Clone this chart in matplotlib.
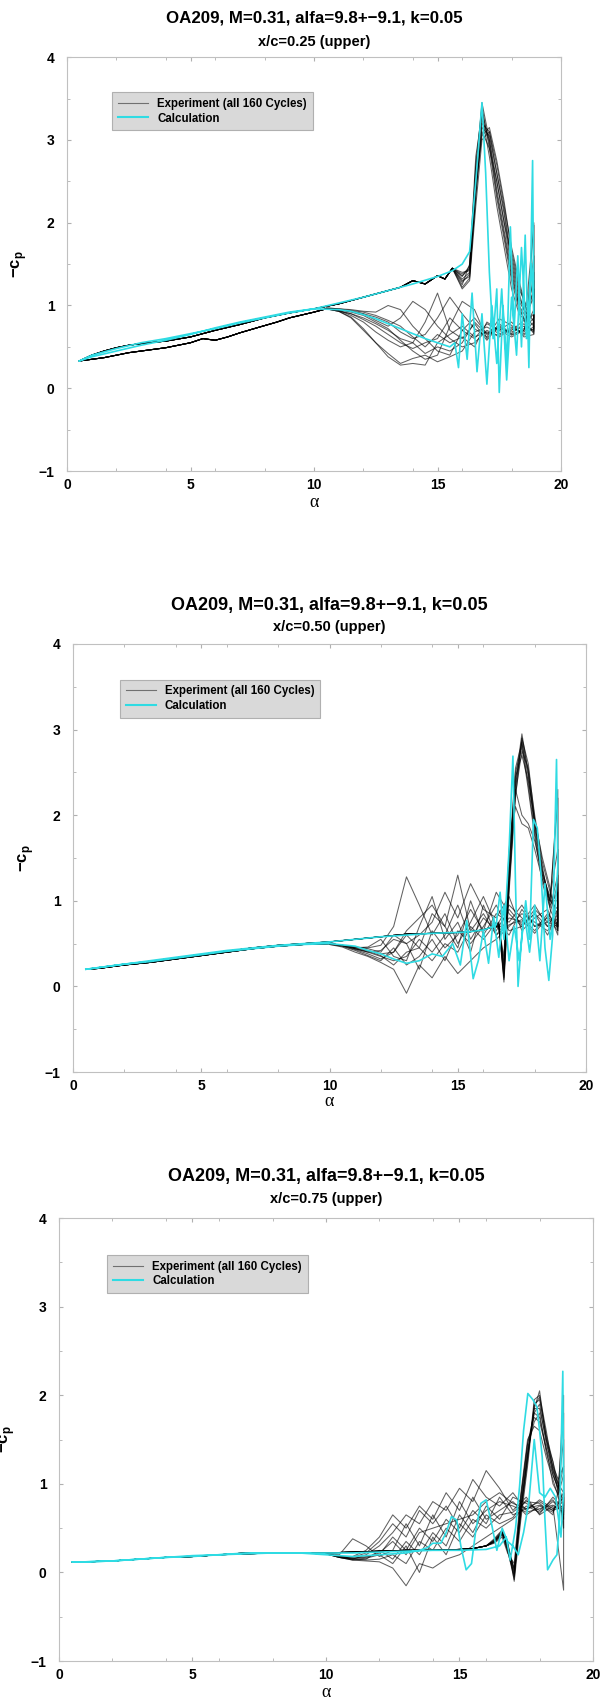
import matplotlib
matplotlib.use('Agg')
import matplotlib.pyplot as plt
from matplotlib.ticker import MultipleLocator
from matplotlib.lines import Line2D

plt.rcParams['font.family'] = ['Liberation Sans', 'DejaVu Sans']
plt.rcParams['font.weight'] = 'bold'
plt.rcParams['mathtext.fontset'] = 'custom'
plt.rcParams['mathtext.rm'] = 'Liberation Sans'
plt.rcParams['mathtext.bf'] = 'Liberation Sans:bold'

TITLE = 'OA209, M=0.31, alfa=9.8+\u22129.1, k=0.05'
SUBTITLES = ['x/c=0.25 (upper)', 'x/c=0.50 (upper)', 'x/c=0.75 (upper)']
LEG_LABELS = ['Experiment (all 160 Cycles)', 'Calculation']

# ---- x/c = 0.25 ----
# upstroke, shared by all cycles
A1_UP = [0.5, 1, 1.5, 2, 2.5, 3, 4, 5, 6, 7, 8, 9, 10, 11, 12, 13, 13.5, 14, 14.5, 15, 15.3, 15.6]
CP1_UP = [0.33, 0.40, 0.45, 0.49, 0.52, 0.54, 0.57, 0.62, 0.70, 0.77, 0.85, 0.91, 0.96, 1.02, 1.10, 1.18,
          1.22, 1.30, 1.26, 1.36, 1.32, 1.45]
# stall part of upstroke, one row per cycle
A1_STALL = [16.0, 16.3, 16.55, 16.8, 17.1, 17.4, 17.7, 18.0, 18.3, 18.6, 18.9]
CP1_STALL = [
    [1.38, 1.45, 2.60, 3.45, 3.00, 2.40, 1.90, 1.40, 1.00, 0.85, 1.60],
    [1.30, 1.35, 2.30, 3.20, 3.10, 2.60, 2.10, 1.50, 1.10, 0.90, 1.20],
    [1.25, 1.50, 2.80, 3.30, 2.80, 2.20, 1.70, 1.20, 0.90, 0.80, 0.90],
    [1.40, 1.42, 2.40, 3.10, 2.90, 2.50, 2.00, 1.60, 1.20, 1.00, 1.97],
    [1.20, 1.30, 2.20, 3.00, 3.10, 2.70, 2.20, 1.70, 1.30, 0.95, 0.80],
    [1.35, 1.48, 2.70, 3.40, 2.90, 2.30, 1.80, 1.30, 0.95, 0.80, 1.40],
    [1.32, 1.40, 2.50, 3.25, 3.00, 2.50, 2.00, 1.45, 1.05, 0.90, 1.10],
    [1.28, 1.38, 2.35, 3.15, 3.05, 2.60, 2.15, 1.55, 1.15, 0.85, 0.75],
    [1.36, 1.44, 2.65, 3.35, 2.95, 2.35, 1.85, 1.35, 1.00, 0.75, 2.00],
    [1.22, 1.33, 2.45, 3.05, 3.15, 2.75, 2.25, 1.65, 1.25, 0.95, 1.30],
]
# downstroke, one row per cycle
A1_DOWN = [18.9, 18.5, 18.0, 17.5, 17.0, 16.5, 16.0, 15.5, 15.0, 14.5, 14.0, 13.5, 13.0, 12.5, 12.0, 11.5, 11.0, 10.5]
CP1_DOWN = [
    [0.70, 0.75, 0.68, 0.72, 0.65, 0.80, 0.55, 0.45, 0.50, 0.42, 0.55, 0.60, 0.70, 0.78, 0.85, 0.90, 0.94, 0.96],
    [0.65, 0.62, 0.80, 0.70, 0.78, 0.60, 0.70, 0.85, 0.60, 0.55, 0.48, 0.55, 0.65, 0.75, 0.83, 0.90, 0.93, 0.96],
    [0.95, 0.70, 0.65, 0.78, 0.60, 0.95, 1.05, 0.75, 0.40, 0.35, 0.45, 0.58, 0.72, 0.80, 0.88, 0.92, 0.95, 0.96],
    [0.80, 0.68, 0.72, 0.62, 0.70, 0.55, 0.50, 0.60, 0.75, 0.95, 1.05, 0.85, 0.75, 0.82, 0.90, 0.93, 0.95, 0.96],
    [0.66, 0.82, 0.70, 0.66, 0.74, 0.68, 0.45, 0.38, 0.32, 0.40, 0.36, 0.30, 0.42, 0.55, 0.70, 0.85, 0.93, 0.96],
    [0.75, 0.64, 0.76, 0.84, 0.62, 0.72, 0.90, 1.10, 0.85, 0.65, 0.60, 0.68, 0.80, 0.86, 0.90, 0.93, 0.95, 0.96],
    [1.20, 0.70, 0.62, 0.70, 0.80, 0.50, 0.62, 0.55, 0.65, 0.50, 0.62, 0.75, 0.82, 0.88, 0.92, 0.94, 0.96, 0.97],
    [0.68, 0.78, 0.66, 0.74, 0.66, 0.85, 0.70, 0.40, 0.45, 0.60, 0.75, 0.95, 1.00, 0.92, 0.93, 0.95, 0.96, 0.97],
    [0.72, 0.66, 0.74, 0.64, 0.68, 0.62, 0.75, 0.65, 0.55, 0.28, 0.30, 0.28, 0.38, 0.55, 0.72, 0.86, 0.93, 0.96],
    [0.85, 0.72, 0.64, 0.76, 0.58, 0.78, 0.60, 0.70, 1.15, 0.80, 0.55, 0.50, 0.58, 0.68, 0.80, 0.88, 0.94, 0.96],
]
# end of downstroke, shared
A1_BACK = [10.5, 10, 9, 8.5, 7.8, 7, 6.5, 6, 5.5, 5, 4, 3.5, 2.5, 1.5, 0.5]
CP1_BACK = [0.96, 0.92, 0.85, 0.80, 0.74, 0.67, 0.62, 0.58, 0.60, 0.55, 0.49, 0.47, 0.43, 0.37, 0.33]
# calculation
CALC1_A = [0.5, 1, 2, 3, 4, 5, 6, 7, 8, 9, 10, 11, 12, 13, 14, 15, 15.6, 16.0, 16.3, 16.55,
           16.8, 16.95, 17.1, 17.25, 17.4, 17.5, 17.65, 17.8, 17.95, 18.1, 18.25, 18.4, 18.55, 18.7, 18.85, 18.9,
           18.8, 18.6, 18.4, 18.2, 18.0, 17.8, 17.6, 17.4, 17.2, 17.0, 16.8, 16.6, 16.4, 16.2,
           16.0, 15.85, 15.7, 15.5, 15.0, 14.5, 14.0, 13.5, 13.0, 12.5, 12.0, 11.5, 11.0, 10.0,
           9, 8, 7, 6, 5, 4, 3, 2, 1, 0.5]
CALC1_CP = [0.33, 0.40, 0.48, 0.55, 0.60, 0.66, 0.72, 0.79, 0.85, 0.91, 0.96, 1.03, 1.10, 1.18, 1.26, 1.35, 1.42,
            1.50, 1.65, 2.50, 3.45, 2.60, 1.40, 0.60, 1.20, -0.05, 1.00, 0.30, 1.95, 0.70, 1.60, 0.50, 1.85, 0.25,
            2.75, 0.90, 1.50, 0.60, 1.70, 0.40, 1.10, 0.10, 1.20, 0.30, 1.00, 0.05, 0.90, 0.20, 1.15, 0.35,
            0.90, 0.25, 0.55, 0.50, 0.55, 0.60, 0.66, 0.72, 0.78, 0.84, 0.89, 0.93, 0.95, 0.96,
            0.92, 0.86, 0.80, 0.73, 0.65, 0.58, 0.52, 0.45, 0.38, 0.33]

# ---- x/c = 0.50 ----
A2_UP = [0.5, 1, 2, 3, 4, 5, 6, 7, 8, 9, 10, 11, 12, 13, 14, 15, 15.5, 16.0, 16.4]
CP2_UP = [0.20, 0.22, 0.26, 0.29, 0.33, 0.37, 0.41, 0.45, 0.48, 0.50, 0.52, 0.55, 0.58, 0.61, 0.62, 0.63, 0.64,
          0.66, 0.70]
A2_STALL = [16.6, 16.8, 17.0, 17.25, 17.5, 17.75, 18.0, 18.3, 18.6, 18.9]
CP2_STALL = [
    [0.72, 0.10, 1.30, 2.40, 2.95, 2.50, 1.90, 1.35, 1.00, 2.20],
    [0.70, 0.25, 1.50, 2.55, 2.85, 2.35, 1.80, 1.25, 0.95, 1.10],
    [0.74, 0.15, 1.20, 2.25, 2.75, 2.55, 2.00, 1.45, 1.10, 0.80],
    [0.68, 0.35, 1.60, 2.30, 2.00, 1.90, 1.70, 1.30, 1.05, 1.60],
    [0.71, 0.05, 1.10, 2.20, 2.90, 2.60, 1.95, 1.40, 0.90, 0.70],
    [0.73, 0.20, 1.40, 2.50, 2.80, 2.30, 1.75, 1.20, 0.92, 1.30],
    [0.69, 0.30, 1.55, 2.10, 1.90, 1.85, 1.60, 1.25, 1.00, 0.90],
    [0.72, 0.12, 1.25, 2.35, 2.85, 2.45, 1.85, 1.30, 0.98, 2.30],
    [0.70, 0.22, 1.35, 2.45, 2.70, 2.40, 1.95, 1.50, 1.15, 0.65],
    [0.75, 0.08, 1.15, 2.30, 2.90, 2.50, 1.90, 1.35, 1.00, 1.00],
]
A2_DOWN = [18.9, 18.5, 18.0, 17.5, 17.0, 16.5, 16.0, 15.5, 15.0, 14.5, 14.0, 13.5, 13.0, 12.5, 12.0, 11.5, 11.0,
           10.5, 10.0]
CP2_DOWN = [
    [0.75, 0.70, 0.85, 0.72, 0.90, 0.65, 0.80, 0.55, 0.95, 0.60, 0.40, 0.55, 0.35, 0.30, 0.35, 0.40, 0.44, 0.48, 0.50],
    [0.65, 0.80, 0.70, 0.95, 0.75, 0.85, 0.60, 1.00, 0.45, 0.70, 0.85, 0.45, 0.60, 0.40, 0.38, 0.42, 0.45, 0.48, 0.50],
    [1.20, 0.75, 0.90, 0.70, 0.65, 0.95, 0.70, 0.50, 0.65, 0.30, 0.55, 0.35, 0.25, 0.45, 0.30, 0.36, 0.42, 0.47, 0.49],
    [0.70, 0.85, 0.65, 0.80, 0.95, 0.70, 1.05, 0.75, 0.50, 0.85, 0.60, 0.95, 1.28, 0.70, 0.48, 0.45, 0.46, 0.48, 0.50],
    [0.80, 0.65, 0.75, 0.85, 0.70, 0.55, 0.45, 0.30, 0.15, 0.35, 0.10, 0.25, -0.08, 0.20, 0.28, 0.35, 0.40, 0.46, 0.49],
    [0.60, 0.90, 0.80, 0.65, 1.05, 0.80, 0.90, 1.20, 0.80, 1.10, 0.75, 0.60, 0.50, 0.55, 0.42, 0.40, 0.44, 0.48, 0.50],
    [0.90, 0.70, 0.95, 0.75, 0.80, 0.60, 0.85, 0.65, 1.30, 0.70, 0.95, 0.80, 0.65, 0.40, 0.32, 0.38, 0.43, 0.47, 0.50],
    [0.70, 0.75, 0.70, 0.90, 0.60, 0.75, 0.55, 0.70, 0.40, 0.50, 0.30, 0.45, 0.40, 0.25, 0.36, 0.41, 0.44, 0.48, 0.50],
    [0.85, 0.60, 0.85, 0.70, 0.85, 1.10, 0.65, 0.90, 0.60, 0.45, 0.65, 0.20, 0.50, 0.60, 0.40, 0.44, 0.46, 0.48, 0.50],
    [0.68, 0.82, 0.62, 0.78, 0.72, 0.60, 0.95, 0.40, 0.75, 0.55, 1.05, 0.70, 0.30, 0.35, 0.55, 0.46, 0.45, 0.48, 0.50],
]
A2_BACK = [10.0, 9, 8, 7, 6, 5, 4, 3, 2, 1, 0.5]
CP2_BACK = [0.50, 0.49, 0.47, 0.44, 0.40, 0.36, 0.32, 0.28, 0.25, 0.21, 0.20]
CALC2_A = [0.5, 1, 2, 3, 4, 5, 6, 7, 8, 9, 10, 11, 12, 13, 14, 15, 15.5, 16.0, 16.4, 16.5,
           16.65, 16.8, 17.0, 17.15, 17.25, 17.35, 17.5, 17.65, 17.8, 17.95, 18.1, 18.25, 18.4, 18.55, 18.7,
           18.85, 18.9, 18.8, 18.6, 18.4, 18.2, 18.0, 17.8, 17.6, 17.4, 17.2, 17.0, 16.8, 16.6, 16.4,
           16.2, 16.0, 15.8, 15.6, 15.35, 15.1, 14.8, 14.4, 14.0, 13.5, 13.0, 12.5, 12.0, 11.5, 11.0, 10.0,
           9, 8, 7, 6, 5, 4, 3, 2, 1, 0.5]
CALC2_CP = [0.20, 0.22, 0.26, 0.30, 0.34, 0.38, 0.42, 0.45, 0.48, 0.50, 0.52, 0.55, 0.58, 0.60, 0.62, 0.63, 0.64,
            0.66, 0.70, 0.72, 1.10, 0.55, 1.60, 2.69, 1.20, 0.00, 0.60, 1.00, 0.55, 1.95, 1.85, 1.30, 0.45, 0.07,
            0.60, 2.65, 1.40, 0.90, 0.55, 1.20, 0.30, 0.95, 0.40, 0.85, 0.30, 0.70, 0.30, 0.95, 0.34, 0.81,
            0.27, 0.65, 0.30, 0.09, 0.77, 0.25, 0.50, 0.35, 0.38, 0.30, 0.27, 0.32, 0.38, 0.42, 0.47, 0.50,
            0.49, 0.47, 0.44, 0.41, 0.37, 0.33, 0.29, 0.26, 0.22, 0.20]

# ---- x/c = 0.75 ----
A3_UP = [0.5, 1, 2, 3, 4, 5, 6, 7, 8, 9, 10, 11, 12, 13, 14, 15, 15.5, 16.0]
CP3_UP = [0.12, 0.12, 0.13, 0.15, 0.17, 0.18, 0.20, 0.22, 0.22, 0.22, 0.22, 0.23, 0.24, 0.25, 0.25, 0.26, 0.27, 0.30]
A3_STALL = [16.3, 16.6, 16.8, 17.05, 17.3, 17.55, 17.8, 18.0, 18.25, 18.5, 18.7, 18.9]
CP3_STALL = [
    [0.35, 0.45, 0.30, -0.05, 0.70, 1.30, 1.85, 2.05, 1.50, 1.10, 0.95, 1.80],
    [0.34, 0.42, 0.25, 0.05, 0.85, 1.45, 1.75, 1.70, 1.40, 1.15, 1.00, 0.70],
    [0.38, 0.48, 0.35, -0.10, 0.60, 1.20, 1.90, 1.95, 1.55, 1.25, 0.90, 2.00],
    [0.33, 0.40, 0.22, 0.10, 0.90, 1.50, 1.65, 1.60, 1.30, 1.05, 0.85, 0.60],
    [0.36, 0.46, 0.28, -0.02, 0.75, 1.35, 1.80, 1.90, 1.45, 1.20, 1.05, 1.20],
    [0.35, 0.44, 0.32, 0.00, 0.65, 1.25, 1.95, 2.00, 1.60, 1.15, 0.90, 0.50],
    [0.37, 0.47, 0.26, -0.08, 0.80, 1.40, 1.70, 1.80, 1.35, 1.10, 0.95, 1.50],
    [0.34, 0.43, 0.30, 0.04, 0.70, 1.30, 1.85, 1.85, 1.50, 1.25, 1.00, 0.90],
    [0.36, 0.45, 0.24, -0.04, 0.85, 1.45, 1.80, 1.75, 1.40, 1.00, 0.88, 1.10],
    [0.35, 0.44, 0.33, 0.02, 0.72, 1.32, 1.88, 1.98, 1.52, 1.18, 0.98, 0.80],
]
A3_DOWN = [18.9, 18.5, 18.0, 17.5, 17.0, 16.5, 16.0, 15.5, 15.0, 14.5, 14.0, 13.5, 13.0, 12.5, 12.0, 11.5, 11.0,
           10.5, 10.0]
CP3_DOWN = [
    [0.75, 0.70, 0.80, 0.72, 0.65, 0.85, 0.55, 0.70, 0.45, 0.60, 0.35, 0.50, 0.25, 0.40, 0.20, 0.18, 0.16, 0.18, 0.21],
    [0.65, 0.82, 0.70, 0.78, 0.85, 0.60, 0.75, 0.45, 0.65, 0.30, 0.45, 0.20, 0.35, 0.15, 0.25, 0.15, 0.14, 0.17, 0.21],
    [-0.20, 0.75, 0.65, 0.85, 0.70, 0.95, 1.15, 0.80, 0.95, 0.70, 0.80, 0.55, 0.65, 0.45, 0.30, 0.20, 0.15, 0.17, 0.21],
    [0.90, 0.68, 0.75, 0.65, 0.80, 0.70, 0.60, 0.85, 0.50, 0.75, 0.55, 0.70, 0.40, 0.55, 0.35, 0.22, 0.17, 0.18, 0.21],
    [0.70, 0.80, 0.68, 0.75, 0.60, 0.50, 0.40, 0.30, 0.20, 0.15, 0.05, 0.10, -0.15, 0.05, 0.12, 0.13, 0.14, 0.17, 0.21],
    [0.80, 0.72, 0.82, 0.70, 0.90, 0.75, 0.85, 1.05, 0.70, 0.90, 0.60, 0.75, 0.50, 0.65, 0.40, 0.25, 0.18, 0.18, 0.21],
    [1.20, 0.65, 0.78, 0.80, 0.68, 0.65, 0.50, 0.60, 0.35, 0.50, 0.25, 0.35, 0.10, 0.20, 0.15, 0.14, 0.15, 0.17, 0.21],
    [0.68, 0.76, 0.72, 0.68, 0.75, 0.80, 0.70, 0.55, 0.80, 0.40, 0.65, 0.30, 0.55, 0.25, 0.18, 0.30, 0.38, 0.20, 0.21],
    [0.72, 0.85, 0.66, 0.82, 0.62, 0.55, 0.65, 0.40, 0.55, 0.20, 0.40, 0.00, 0.30, 0.10, 0.20, 0.16, 0.15, 0.18, 0.21],
    [0.85, 0.70, 0.76, 0.72, 0.78, 0.90, 0.80, 0.65, 0.60, 0.55, 0.50, 0.45, 0.20, 0.35, 0.22, 0.17, 0.16, 0.18, 0.21],
]
A3_BACK = [10.0, 9, 8, 7, 6, 5, 4, 3, 2, 1, 0.5]
CP3_BACK = [0.21, 0.22, 0.22, 0.21, 0.20, 0.18, 0.17, 0.15, 0.13, 0.12, 0.12]
CALC3_A = [0.5, 1, 2, 3, 4, 5, 6, 7, 8, 9, 10, 11, 12, 13, 14, 15, 16, 16.5, 16.75, 16.9,
           17.1, 17.25, 17.4, 17.56, 17.75, 17.9, 18.0, 18.1, 18.2, 18.3, 18.5, 18.65, 18.75, 18.87, 18.9,
           18.8, 18.6, 18.4, 18.2, 18.0, 17.8, 17.6, 17.4, 17.2, 17.0, 16.8, 16.6, 16.4, 16.2, 16.0,
           15.8, 15.6, 15.45, 15.25, 15.05, 14.9, 14.7, 14.5, 14.3, 14.0, 13.8, 13.5, 13.0, 12.0, 11.0, 10.0,
           9, 8, 7, 6, 5, 4, 3, 2, 1, 0.5]
CALC3_CP = [0.12, 0.12, 0.13, 0.15, 0.17, 0.19, 0.20, 0.22, 0.22, 0.22, 0.22, 0.22, 0.23, 0.24, 0.25, 0.25, 0.26,
            0.30, 0.40, 0.14, 0.50, 0.97, 1.60, 2.02, 1.95, 1.87, 1.60, 1.30, 0.60, 0.03, 0.14, 0.20, 0.60, 2.27,
            0.90, 0.40, 0.85, 0.95, 0.85, 0.90, 1.50, 0.80, 0.45, 0.20, 0.30, 0.35, 0.50, 0.25, 0.55, 0.82,
            0.78, 0.45, 0.10, 0.03, 0.30, 0.59, 0.63, 0.45, 0.33, 0.33, 0.28, 0.25, 0.22, 0.20, 0.18, 0.20,
            0.22, 0.22, 0.21, 0.20, 0.18, 0.17, 0.15, 0.13, 0.12, 0.12]

CYAN = '#2fdbe3'


def draw_panel(ax, a_up, cp_up, a_stall, cp_stall, a_down, cp_down, a_back, cp_back, calc_a, calc_cp):
    # experiment cycles: shared upstroke + stall + downstroke + shared return
    for i in range(len(cp_stall)):
        a = a_up + a_stall + a_down + a_back
        c = cp_up + cp_stall[i] + cp_down[i] + cp_back
        ax.plot(a, c, color='black', lw=0.75, alpha=0.62)
    ax.plot(calc_a, calc_cp, color=CYAN, lw=1.2)

    ax.set_xlim(0, 20)
    ax.set_ylim(-1, 4)
    ax.xaxis.set_major_locator(MultipleLocator(5))
    ax.xaxis.set_minor_locator(MultipleLocator(2))
    ax.yaxis.set_major_locator(MultipleLocator(1))
    ax.yaxis.set_minor_locator(MultipleLocator(0.5))
    ax.tick_params(which='both', direction='in', top=True, right=True, color='#b0b0b0', labelsize=10)
    ax.tick_params(which='major', length=3)
    ax.tick_params(which='minor', length=2)
    ax.tick_params(axis='x', pad=5)
    ax.tick_params(axis='y', pad=9)
    for s in ax.spines.values():
        s.set_color('#c0c0c0')
        s.set_linewidth(0.8)

    handles = [Line2D([], [], color='#707070', lw=0.8), Line2D([], [], color=CYAN, lw=1.5)]
    leg = ax.legend(handles, LEG_LABELS, loc='upper left', bbox_to_anchor=(0.08, 0.93), fontsize=8.3,
                    fancybox=False, framealpha=1, facecolor='#d9d9d9', edgecolor='#b0b0b0',
                    handlelength=2.6, labelspacing=0.25, borderpad=0.5)
    leg.get_frame().set_linewidth(0.8)


fig = plt.figure(figsize=(6, 17), dpi=100)

rects = [[0.1117, 0.7229, 0.8233, 0.2435],
         [0.1217, 0.3694, 0.855, 0.2518],
         [0.0983, 0.0229, 0.89, 0.2606]]
title_y = [(0.9894, 0.9753), (0.6441, 0.6312), (0.3082, 0.2947)]
title_size = [12.2, 13.0, 13.0]
ylab_x = [-0.077, -0.072, -0.079]
xlab_y = [-0.077, -0.068, -0.072]

data = [
    (A1_UP, CP1_UP, A1_STALL, CP1_STALL, A1_DOWN, CP1_DOWN, A1_BACK, CP1_BACK, CALC1_A, CALC1_CP),
    (A2_UP, CP2_UP, A2_STALL, CP2_STALL, A2_DOWN, CP2_DOWN, A2_BACK, CP2_BACK, CALC2_A, CALC2_CP),
    (A3_UP, CP3_UP, A3_STALL, CP3_STALL, A3_DOWN, CP3_DOWN, A3_BACK, CP3_BACK, CALC3_A, CALC3_CP),
]

for k in range(3):
    ax = fig.add_axes(rects[k])
    draw_panel(ax, *data[k])
    cx = rects[k][0] + rects[k][2] / 2
    fig.text(cx, title_y[k][0], TITLE, ha='center', va='center', fontsize=title_size[k], fontweight='bold')
    fig.text(cx, title_y[k][1], SUBTITLES[k], ha='center', va='center', fontsize=10.5, fontweight='bold')
    ax.set_ylabel(r'$\mathbf{-c}_\mathbf{p}$', fontsize=12)
    ax.yaxis.set_label_coords(ylab_x[k], 0.5)
    ax.set_xlabel('\u03b1', fontsize=13, family='Liberation Serif', fontweight='normal')
    ax.xaxis.set_label_coords(0.5, xlab_y[k])
    ax.xaxis.label.set_va('center')

fig.savefig('out.png', dpi=100, facecolor='white')
